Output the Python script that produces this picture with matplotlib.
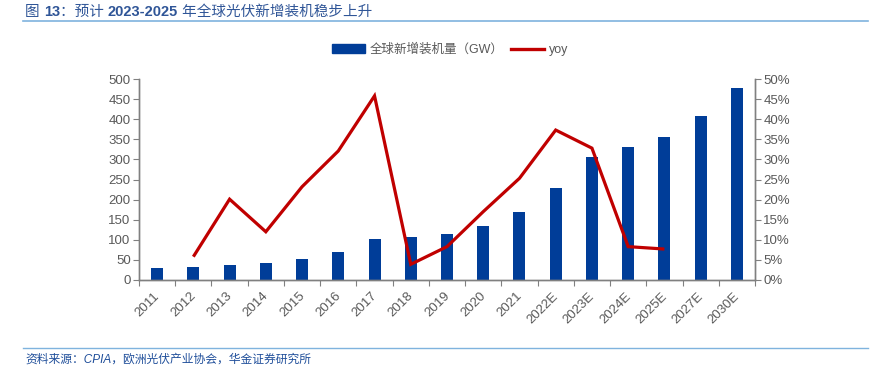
import matplotlib.pyplot as plt
import matplotlib
import numpy as np
from matplotlib.lines import Line2D
from matplotlib.patches import Patch
from matplotlib.transforms import ScaledTranslation

matplotlib.rcParams['font.family'] = ['Liberation Sans', 'Noto Sans CJK SC', 'DejaVu Sans']
matplotlib.rcParams['axes.unicode_minus'] = False

# 数据
years = ['2011', '2012', '2013', '2014', '2015', '2016', '2017', '2018', '2019',
         '2020', '2021', '2022E', '2023E', '2024E', '2025E', '2027E', '2030E']
install_gw = [30, 32, 37, 42, 53, 69, 102, 106, 114, 134, 168, 230, 306, 331, 356, 409, 477]
yoy_years = years[1:15]
yoy = [5.8, 20.1, 12.0, 23.2, 32.1, 45.8, 3.9, 8.3, 17.0, 25.3, 37.3, 32.8, 8.3, 7.7]

bar_color = '#003D98'
line_color = '#C00000'
gray = '#595959'
axis_gray = '#808080'
title_color = '#2F5597'

fig = plt.figure(figsize=(8.71, 3.68), dpi=100)
ax = fig.add_axes([139 / 871, 1 - 280 / 368, (755 - 139) / 871, (280 - 79) / 368])
ax2 = ax.twinx()

x = np.arange(len(years))
ax.bar(x, install_gw, width=0.33, color=bar_color, zorder=2)
yoy_x = [years.index(y) for y in yoy_years]
ax2.plot(yoy_x, np.array(yoy) / 100, color=line_color, lw=2.3, solid_joinstyle='miter',
         solid_capstyle='butt', zorder=3)

ax.set_xlim(-0.5, len(years) - 0.5)
ax.set_ylim(0, 500)
ax.set_yticks(np.arange(0, 501, 50))
ax2.set_ylim(0, 0.5)
ax2.set_yticks(np.arange(0, 0.51, 0.05))
ax2.set_yticklabels([f'{int(round(v * 100))}%' for v in np.arange(0, 0.51, 0.05)])

# x 轴：刻度在分界处，标签在中间
ax.set_xticks(np.arange(-0.5, len(years), 1.0))
ax.set_xticklabels([])
ax.set_xticks(x, minor=True)
ax.set_xticklabels(years, minor=True, rotation=45, ha='right', va='top')
ax.tick_params(axis='x', which='major', length=4, color=axis_gray, direction='out')
ax.tick_params(axis='x', which='minor', length=0, pad=3, labelsize=9.5, labelcolor=gray)
ax.tick_params(axis='y', length=4, color=axis_gray, labelsize=9.5, labelcolor=gray, pad=2)
ax2.tick_params(axis='y', length=4, color=axis_gray, labelsize=9.5, labelcolor=gray, pad=2)
shift = ScaledTranslation(5 / 100, -6 / 100, fig.dpi_scale_trans)
for lab in ax.get_xticklabels(minor=True):
    lab.set_transform(lab.get_transform() + shift)

for a in (ax, ax2):
    a.spines['top'].set_visible(False)
    for s in ('left', 'right', 'bottom'):
        a.spines[s].set_color(axis_gray)
        a.spines[s].set_linewidth(1.0)

# 图例
handles = [Patch(facecolor=bar_color, edgecolor=bar_color),
           Line2D([], [], color=line_color, lw=2.4)]
fig.legend(handles, ['全球新增装机量（GW）', 'yoy'], loc='center', bbox_to_anchor=(450 / 871, 1 - 50 / 368),
           ncol=2, frameon=False, fontsize=9, labelcolor=gray, handlelength=2.6, handleheight=0.7,
           columnspacing=0.6, handletextpad=0.4)

# 标题（数字加粗）
title_parts = [('图 ', 'normal'), ('13', 'bold'), ('：预计 ', 'normal'),
               ('2023-2025', 'bold'), (' 年全球光伏新增装机稳步上升', 'normal')]
renderer = fig.canvas.get_renderer()
tx = 25
for txt, wt in title_parts:
    t = fig.text(tx / 871, 1 - 12 / 368, txt, fontsize=10.5, color=title_color,
                 va='center', ha='left', fontweight=wt)
    tx += t.get_window_extent(renderer).width

fig.add_artist(Line2D([23 / 871, 868 / 871], [1 - 21 / 368] * 2, color='#7FB3DE', lw=1.2))
fig.add_artist(Line2D([23 / 871, 868 / 871], [1 - 348 / 368] * 2, color='#7FB3DE', lw=1.0))
fig.text(25 / 871, 1 - 360 / 368, '资料来源：CPIA，欧洲光伏产业协会，华金证券研究所',
         fontsize=8.5, color='#1F4E9A', va='center', ha='left', style='italic')

fig.savefig('out.png', dpi=100)
